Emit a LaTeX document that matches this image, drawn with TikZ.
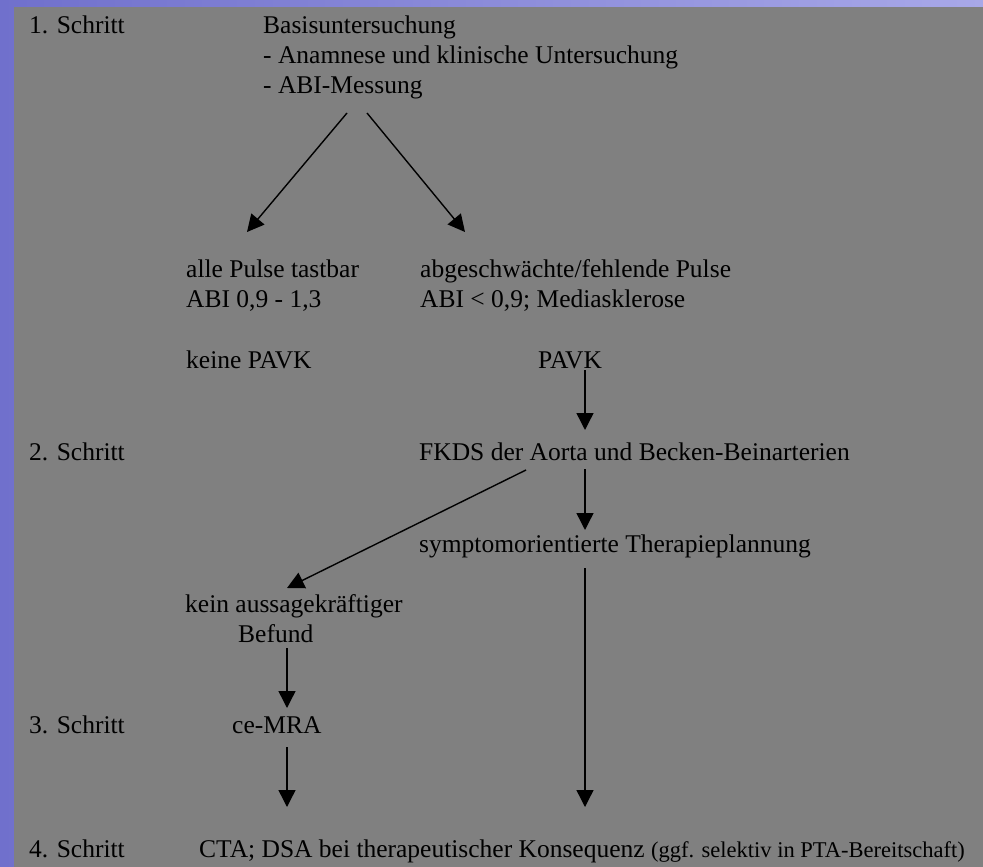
\documentclass[tikz,border=0pt]{standalone}
\usepackage{fontspec}
\setmainfont{Liberation Serif}
\usetikzlibrary{arrows.meta}

\definecolor{slidegray}{HTML}{808080}
\definecolor{frameblue}{HTML}{7070CC}
\definecolor{framelilac}{HTML}{A8A8E8}

\tikzset{
  txt/.style={anchor=base west, inner sep=0pt, align=left},
  arr/.style={-{Triangle[length=17pt,width=17pt]}, line width=1.4pt},
}

\begin{document}
\begin{tikzpicture}[x=1pt, y=-1pt, font=\fontsize{25.5}{29.5}\selectfont] % coordinates in pixels, y down
    % Background
    \useasboundingbox (0,0) rectangle (983,867);
    \shade[left color=frameblue, right color=framelilac] (0,0) rectangle (983,867);
    \fill[slidegray] (14,7) rectangle (983,867);

    % Steps
    \node[txt] (s1) at (29,34) {1. Schritt};
    \node[txt] (s2) at (29,460) {2. Schritt};
    \node[txt] (s3) at (29,733) {3. Schritt};
    \node[txt] (s4) at (29,857) {4. Schritt};

    % Nodes (multi-line nodes sit on their last line)
    \node[txt] (basis) at (263,93) {Basisuntersuchung\\- Anamnese und klinische Untersuchung\\- ABI-Messung};
    \node[txt] (pulse) at (186,307) {alle Pulse tastbar\\ABI 0,9 - 1,3};
    \node[txt] (abg) at (420,307) {abgeschwächte/fehlende Pulse\\ABI < 0,9; Mediasklerose};
    \node[txt] (keine) at (186,368) {keine PAVK};
    \node[txt] (pavk) at (538,368) {PAVK};
    \node[txt] (fkds) at (419,460) {FKDS der Aorta und Becken-Beinarterien};
    \node[txt] (sym) at (419,552) {symptomorientierte Therapieplannung};
    \node[txt] (kein) at (185,642) {kein aussagekräftiger\\\hspace*{53pt}Befund};
    \node[txt] (mra) at (232,733) {ce-MRA};
    \node[txt] (cta) at (199,857) {CTA; DSA bei therapeutischer Konsequenz {\fontsize{22.5}{26}\selectfont (ggf. selektiv in PTA-Bereitschaft)}};

    % Edges
    \draw[arr] ([xshift=84pt,yshift=-20pt]basis.base west) -- ([xshift=61pt,yshift=75pt]pulse.base west);
    \draw[arr] ([xshift=104pt,yshift=-20pt]basis.base west) -- ([xshift=45pt,yshift=75pt]abg.base west);
    \draw[arr] ([xshift=47pt,yshift=-2pt]pavk.base west) -- ([xshift=166pt,yshift=30pt]fkds.base west);
    \draw[arr] ([xshift=166pt,yshift=-9pt]fkds.base west) -- ([xshift=166pt,yshift=22pt]sym.base west);
    \draw[arr] ([xshift=107pt,yshift=-10pt]fkds.base west) -- ([xshift=102pt,yshift=54pt]kein.base west);
    \draw[arr] ([xshift=102pt,yshift=-6pt]kein.base west) -- ([xshift=55pt,yshift=25pt]mra.base west);
    \draw[arr] ([xshift=55pt,yshift=-14pt]mra.base west) -- ([xshift=88pt,yshift=50pt]cta.base west);
    \draw[arr] ([xshift=166pt,yshift=-16pt]sym.base west) -- ([xshift=386pt,yshift=50pt]cta.base west);
\end{tikzpicture}
\end{document}
